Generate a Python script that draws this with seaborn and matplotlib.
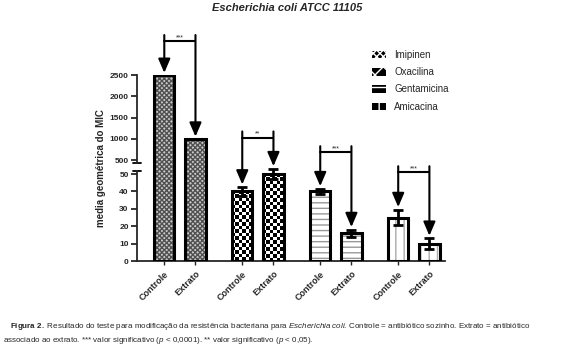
"""Broken-axis bar chart: MIC geometric means for E. coli ATCC 11105."""

import matplotlib
matplotlib.use("Agg")
import matplotlib.pyplot as plt
import numpy as np
import pandas as pd
import seaborn as sns
from matplotlib.patches import Patch

groups = ["Imipinen", "Oxacilina", "Gentamicina", "Amicacina"]
conditions = ["Controle", "Extrato"]
controle = [2500, 40, 40, 25]
extrato = [1000, 50, 16, 10]
controle_err = [0, 2.5, 1.5, 4.5]
extrato_err = [0, 3, 2, 3]
significance = ["***", "**", "***", "***"]
upper_ticks = [500, 1000, 1500, 2000, 2500]
lower_ticks = [0, 10, 20, 30, 40, 50]

sns.set_style("ticks")
plt.rcParams["font.family"] = ["Liberation Sans", "DejaVu Sans"]
plt.rcParams["mathtext.fontset"] = "custom"
plt.rcParams["mathtext.rm"] = "Liberation Sans"
plt.rcParams["mathtext.it"] = "Liberation Sans:italic"
plt.rcParams["mathtext.bf"] = "Liberation Sans:bold"
plt.rcParams["hatch.linewidth"] = 1.0

df = pd.DataFrame({
    "antibiotico": groups * 2,
    "condicao": ["Controle"] * 4 + ["Extrato"] * 4,
    "valor": controle + extrato,
    "erro": controle_err + extrato_err,
})

# fill colour / hatch / hatch colour per antibiotic (Oxacilina gets a checkerboard image)
styles = {
    0: ("#c8c8c8", "xxxxxxx", "#505050"),
    1: ("white", "", "white"),
    2: ("white", "---", "#999999"),
    3: ("white", "||", "#aaaaaa"),
}

fig = plt.figure(figsize=(5.73, 3.48), dpi=100)
ax_lo = fig.add_axes([137 / 573, 87 / 348, 308 / 573, 97.4 / 348])
# upper panel reaches slightly below the lower panel's top so the bars join
ax_hi = fig.add_axes([137 / 573, 1 - 164.5 / 348, 308 / 573, 89.5 / 348])


def draw_bars(ax):
    sns.barplot(data=df, x="antibiotico", y="valor", hue="condicao",
                order=groups, hue_order=conditions, errorbar=None,
                width=0.8, gap=0.35, palette=["white", "white"],
                legend=False, ax=ax)
    n = len(ax.patches)
    for p in ax.patches:
        g = int(round(p.get_x() + p.get_width() / 2))
        fc, hatch, hc = styles[g]
        p.set_facecolor(fc)
        p.set_hatch(hatch)
        p.set_edgecolor(hc)
        p.set_linewidth(0)
    sns.barplot(data=df, x="antibiotico", y="valor", hue="condicao",
                order=groups, hue_order=conditions, errorbar=None,
                width=0.8, gap=0.35, fill=False, palette=["black", "black"],
                linewidth=2.2, legend=False, ax=ax)
    for p in ax.patches[n:]:
        p.set_zorder(3)


draw_bars(ax_lo)
draw_bars(ax_hi)

ax_lo.set_xlim(-0.55, 3.4)
ax_hi.set_xlim(-0.55, 3.4)
ax_lo.set_ylim(0, 56)
ax_hi.set_ylim(395, 2500)

# bar centres from the drawn patches
centers = {}
fill_patches = {}
for p in ax_lo.patches[:8]:
    cx = p.get_x() + p.get_width() / 2
    g = int(round(cx))
    key = (g, 0 if cx < g else 1)
    centers[key] = cx
    fill_patches[key] = p

# checkerboard fill for Oxacilina (about 3.5 px cells)
px_x = ax_lo.transData.transform((1, 0))[0] - ax_lo.transData.transform((0, 0))[0]
px_y = ax_lo.transData.transform((0, 1))[1] - ax_lo.transData.transform((0, 0))[1]
for c in range(2):
    p = fill_patches[(1, c)]
    x0, w, h = p.get_x(), p.get_width(), p.get_height()
    nx = max(1, int(round(w * px_x / 3.5)))
    ny = max(1, int(round(h * px_y / 3.5)))
    board = (np.add.outer(np.arange(ny), np.arange(nx)) % 2).astype(float)
    im = ax_lo.imshow(board, cmap="gray", vmin=0, vmax=1, aspect="auto",
                      interpolation="nearest", extent=(x0, x0 + w, 0, h),
                      zorder=2)
    im.set_clip_path(p)
ax_lo.set_xlim(-0.55, 3.4)
ax_lo.set_ylim(0, 56)

for ax in (ax_lo, ax_hi):
    ax.set_xlabel("")
    ax.set_ylabel("")
    for s in ("top", "right"):
        ax.spines[s].set_visible(False)
    ax.spines["left"].set_linewidth(1.3)
    ax.tick_params(axis="y", width=1.3, length=4, labelsize=6, pad=2)
    ax.patch.set_alpha(0)

ax_lo.spines["left"].set_bounds(0, 52)
ax_hi.spines["left"].set_bounds(430, 2500)
ax_hi.spines["bottom"].set_visible(False)
ax_hi.set_xticks([])
ax_hi.set_yticks(upper_ticks)
ax_lo.set_yticks(lower_ticks)
ax_lo.spines["bottom"].set_linewidth(1.3)

xt = [centers[(g, c)] for g in range(4) for c in range(2)]
ax_lo.set_xticks(xt)
ax_lo.set_xticklabels(conditions * 4, rotation=45, ha="right",
                      rotation_mode="anchor", fontsize=6.5, fontweight="bold")
ax_lo.tick_params(axis="x", width=1.0, length=3, pad=3)
for lab in ax_lo.get_yticklabels() + ax_hi.get_yticklabels():
    lab.set_fontweight("bold")

# axis break marks
brk = ax_hi.get_yaxis_transform()
ax_hi.plot([-0.012, 0.012], [430, 430], transform=brk, color="black",
           lw=1.3, clip_on=False)
ax_lo.plot([-0.012, 0.012], [52, 52], transform=ax_lo.get_yaxis_transform(),
           color="black", lw=1.3, clip_on=False)

# error bars
for g in range(1, 4):
    for c, (vals, errs) in enumerate(((controle, controle_err), (extrato, extrato_err))):
        ax_lo.errorbar(centers[(g, c)], vals[g], yerr=errs[g], fmt="none",
                       ecolor="black", elinewidth=2, capsize=3.5,
                       capthick=2, clip_on=False, zorder=5)

# significance brackets with arrows
arrow = dict(arrowstyle="-|>,head_length=0.7,head_width=0.3", lw=1.5,
             color="black", mutation_scale=12, shrinkA=0, shrinkB=0)
bracket_ax = [ax_hi, ax_lo, ax_lo, ax_lo]
bracket_y = [3300, 71, 62.5, 51]
extra = [140, 3.5, 3.5, 3.5]
gap = [50, 1.5, 1.5, 1.5]
for g in range(4):
    ax = bracket_ax[g]
    x1, x2 = centers[(g, 0)], centers[(g, 1)]
    h = bracket_y[g]
    ax.plot([x1, x2], [h, h], color="black", lw=1.5, clip_on=False, zorder=6)
    for x, v, e in ((x1, controle[g], controle_err[g]), (x2, extrato[g], extrato_err[g])):
        ax.annotate("", xy=(x, v + e + gap[g]), xytext=(x, h + extra[g]),
                    arrowprops=arrow, annotation_clip=False, zorder=6)
    ax.text((x1 + x2) / 2, h, significance[g], ha="center", va="bottom",
            fontsize=5, clip_on=False)

# legend
handles = [
    Patch(facecolor="black", edgecolor="white", hatch="xxxxx", lw=0),
    Patch(facecolor="black", edgecolor="white", hatch="xx", lw=0),
    Patch(facecolor="black", edgecolor="white", hatch="--", lw=0),
    Patch(facecolor="black", edgecolor="white", hatch="||", lw=0),
]
fig.legend(handles, groups, loc="upper left", bbox_to_anchor=(368 / 573, 1 - 46 / 348),
           frameon=False, fontsize=7, handlelength=1.5, handleheight=0.8,
           labelspacing=0.75, handletextpad=0.8, borderaxespad=0)

fig.text(287 / 573, 1 - 8 / 348, "Escherichia coli ATCC 11105", ha="center",
         va="center", fontsize=8, fontweight="bold", fontstyle="italic")
fig.text(101 / 573, 1 - 168 / 348, "media geométrica do MIC", rotation=90,
         ha="center", va="center", fontsize=7, fontweight="bold")

fig.text(10 / 573, 1 - 327 / 348,
         r"$\bf{Figura\ 2.}$ Resultado do teste para modificação da resistência "
         r"bacteriana para $\it{Escherichia\ coli}$. Controle = antibiótico sozinho. "
         r"Extrato = antibiótico", fontsize=5.8, va="center", ha="left")
fig.text(3 / 573, 1 - 340 / 348,
         r"associado ao extrato. *** valor significativo ($\it{p}$ < 0,0001). "
         r"** valor significativo ($\it{p}$ < 0,05).", fontsize=5.8, va="center",
         ha="left")

fig.savefig("out.png", dpi=100)
